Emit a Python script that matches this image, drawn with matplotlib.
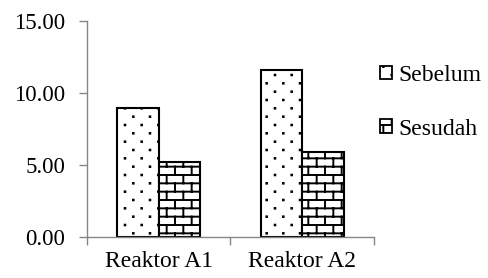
import warnings
warnings.filterwarnings("ignore")
import numpy as np
import matplotlib
matplotlib.use("Agg")
import matplotlib.pyplot as plt
import matplotlib.hatch as mhatch
from matplotlib.path import Path
from matplotlib.patches import Patch
from matplotlib.ticker import FormatStrFormatter, FixedLocator

# ---- data ----
categories = ["Reaktor A1", "Reaktor A2"]
series_names = ["Sebelum", "Sesudah"]
sebelum = [8.95, 11.6]
sesudah = [5.2, 5.9]
y_ticks = [0, 5, 10, 15]


# ---- custom Excel-like hatch patterns (dots 'd', bricks 'b') ----
class ExcelHatch(mhatch.HatchPatternBase):
    rows = 12
    cols = 6

    def __init__(self, hatch, density):
        self.kind = None
        if 'b' in hatch:
            self.kind = 'brick'
        elif 'd' in hatch:
            self.kind = 'dot'
        self.segs = []
        self.dots = []
        R, C = self.rows, self.cols
        if self.kind == 'brick':
            for k in range(R + 1):
                self.segs.append(((0.0, k / R), (1.0, k / R)))
            for k in range(R):
                off = 0.0 if k % 2 == 0 else 0.5 / C
                for j in range(C + 1):
                    x = j / C + off
                    if x <= 1.0:
                        self.segs.append(((x, k / R), (x, (k + 1) / R)))
        elif self.kind == 'dot':
            for k in range(R + 1):
                if k % 2 == 0:
                    xs = [j / C for j in range(C + 1)]
                else:
                    xs = [(j + 0.5) / C for j in range(C)]
                for x in xs:
                    self.dots.append((x, k / R))
        self.num_vertices = 2 * len(self.segs) + 5 * len(self.dots)

    def set_vertices_and_codes(self, vertices, codes):
        i = 0
        for (a, b) in self.segs:
            vertices[i] = a
            vertices[i + 1] = b
            codes[i] = Path.MOVETO
            codes[i + 1] = Path.LINETO
            i += 2
        s = 0.003
        for (x, y) in self.dots:
            pts = [(x - s, y - s), (x + s, y - s), (x + s, y + s), (x - s, y + s), (x - s, y - s)]
            for m, p in enumerate(pts):
                vertices[i + m] = p
            codes[i] = Path.MOVETO
            codes[i + 1] = Path.LINETO
            codes[i + 2] = Path.LINETO
            codes[i + 3] = Path.LINETO
            codes[i + 4] = Path.CLOSEPOLY
            i += 5


mhatch._hatch_types.append(ExcelHatch)

plt.rcParams['font.family'] = ['Liberation Serif', 'DejaVu Serif']
plt.rcParams['hatch.linewidth'] = 1.4
plt.rcParams['hatch.color'] = 'black'

fig = plt.figure(figsize=(4.89, 2.78), dpi=100)
ax = fig.add_axes([87 / 489, 1 - 237 / 278, (374 - 87) / 489, (237 - 21) / 278])

x = np.arange(1, len(categories) + 1)
w = 0.29
ax.bar(x - w / 2, sebelum, width=w, facecolor='white', edgecolor='black',
       linewidth=1.5, hatch='d', label=series_names[0])
ax.bar(x + w / 2, sesudah, width=w, facecolor='white', edgecolor='black',
       linewidth=1.5, hatch='b', label=series_names[1])

ax.set_xlim(0.5, len(categories) + 0.5)
ax.set_ylim(0, 15)
ax.set_yticks(y_ticks)
ax.yaxis.set_major_formatter(FormatStrFormatter('%.2f'))
ax.set_xticks(x)
ax.set_xticklabels(categories)
ax.xaxis.set_minor_locator(FixedLocator(np.arange(0.5, len(categories) + 1, 1.0)))

axis_gray = '#868686'
for s in ['top', 'right']:
    ax.spines[s].set_visible(False)
for s in ['left', 'bottom']:
    ax.spines[s].set_color(axis_gray)
    ax.spines[s].set_linewidth(1.0)

ax.tick_params(axis='y', length=5.5, width=1.0, color=axis_gray, pad=10,
               labelsize=16.5, labelcolor='black')
ax.tick_params(axis='x', which='major', length=0, pad=10, labelsize=17,
               labelcolor='black')
ax.tick_params(axis='x', which='minor', length=5.5, width=1.0, color=axis_gray)

handles = [Patch(facecolor='white', edgecolor='black', linewidth=1.3, hatch='d'),
           Patch(facecolor='white', edgecolor='black', linewidth=1.3, hatch='b')]
fig.legend(handles, series_names, loc='upper left',
           bbox_to_anchor=(380 / 489, 1 - 65 / 278), frameon=False,
           fontsize=17, handlelength=0.5, handleheight=0.5,
           handletextpad=0.28, labelspacing=1.38, borderpad=0, borderaxespad=0)

fig.savefig('out.png', dpi=100)
